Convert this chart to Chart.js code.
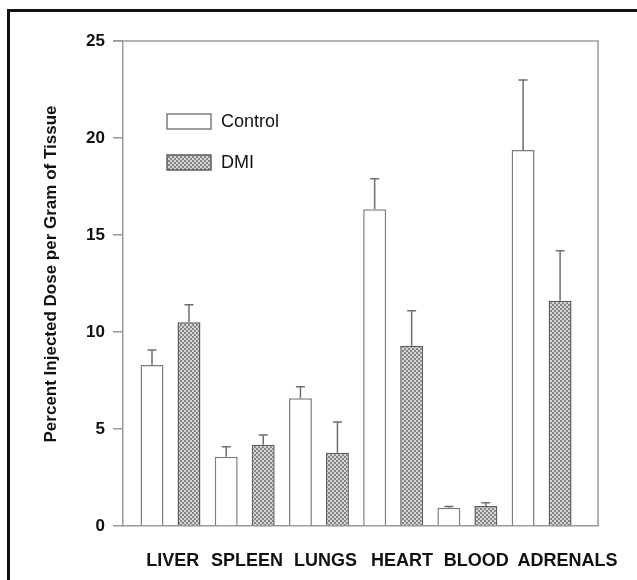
<!DOCTYPE html>
<html>
<head>
<meta charset="utf-8">
<script src="https://cdn.jsdelivr.net/npm/chart.js@4"></script>
<style>
html, body { margin: 0; padding: 0; background: #fff; }
#wrap { position: relative; width: 637px; height: 580px; overflow: hidden; }
#frame { position: absolute; left: 7px; top: 9px; right: -5px; bottom: -5px;
         border-left: 3px solid #111; border-top: 3px solid #111; pointer-events: none; }
canvas { position: absolute; left: 0; top: 0; }
</style>
</head>
<body>
<div id="wrap">
  <canvas id="chart" width="637" height="580"></canvas>
  <div id="frame"></div>
</div>
<script>
// valeurs
const organs = ['LIVER', 'SPLEEN', 'LUNGS', 'HEART', 'BLOOD', 'ADRENALS'];
const labelPos = [0.03, 1.03, 2.09, 3.12, 4.12, 5.35];   // position des libelles (en unites de categorie)
const controlMean = [8.30, 3.57, 6.58, 16.33, 0.94, 19.38];
const controlErr  = [0.77, 0.52, 0.60, 1.57, 0.06, 3.61];
const dmiMean     = [10.50, 4.19, 3.78, 9.29, 1.03, 11.61];
const dmiErr      = [0.91, 0.50, 1.58, 1.81, 0.17, 2.58];
const yTitle = 'Percent Injected Dose per Gram of Tissue';

Chart.defaults.font.family = '"Liberation Sans", Arial, sans-serif';
Chart.defaults.color = '#111';

// motif damier gris pour DMI
function makePattern() {
    const c = document.createElement('canvas');
    c.width = 4; c.height = 4;
    const g = c.getContext('2d');
    g.fillStyle = '#d6d6d6';
    g.fillRect(0, 0, 4, 4);
    g.fillStyle = '#858585';
    g.fillRect(0, 0, 2, 2);
    g.fillRect(2, 2, 2, 2);
    return g.createPattern(c, 'repeat');
}
const dmiFill = makePattern();

// barres d'erreur (haut seulement)
const errorBars = {
    id: 'errorBars',
    afterDatasetsDraw(chart) {
        const ctx = chart.ctx;
        const y = chart.scales.y;
        chart.data.datasets.forEach((ds, di) => {
            const meta = chart.getDatasetMeta(di);
            meta.data.forEach((bar, i) => {
                const top = y.getPixelForValue(ds.data[i].y + ds.errors[i]);
                ctx.save();
                ctx.strokeStyle = '#6e6e6e';
                ctx.lineWidth = 1.5;
                ctx.beginPath();
                ctx.moveTo(bar.x, bar.y);
                ctx.lineTo(bar.x, top);
                ctx.moveTo(bar.x - 4.5, top);
                ctx.lineTo(bar.x + 4.5, top);
                ctx.stroke();
                ctx.restore();
            });
        });
    }
};

// cadre haut et droite du graphique
const plotBox = {
    id: 'plotBox',
    afterDraw(chart) {
        const {ctx, chartArea: a} = chart;
        ctx.save();
        ctx.strokeStyle = '#9a9a9a';
        ctx.lineWidth = 1.5;
        ctx.beginPath();
        ctx.moveTo(a.left - 10, a.top);
        ctx.lineTo(a.right, a.top);
        ctx.lineTo(a.right, a.bottom);
        ctx.stroke();
        ctx.restore();
    }
};

// legende dans la zone du graphique
const legendBox = {
    id: 'legendBox',
    afterDraw(chart) {
        const {ctx, chartArea: a} = chart;
        chart.data.datasets.forEach((ds, i) => {
            const bx = a.left + 44, by = a.top + 73 + i * 41;
            ctx.save();
            ctx.fillStyle = ds.backgroundColor;
            ctx.fillRect(bx, by, 44, 15);
            ctx.strokeStyle = ds.borderColor;
            ctx.lineWidth = 1.5;
            ctx.strokeRect(bx, by, 44, 15);
            ctx.fillStyle = '#111';
            ctx.font = '18px "Liberation Sans", Arial, sans-serif';
            ctx.textBaseline = 'middle';
            ctx.fillText(ds.label, bx + 54, by + 8);
            ctx.restore();
        });
    }
};

// titre de l'axe Y
const yAxisTitle = {
    id: 'yAxisTitle',
    afterDraw(chart) {
        const ctx = chart.ctx;
        ctx.save();
        ctx.translate(51, 274);
        ctx.rotate(-Math.PI / 2);
        ctx.font = 'bold 17px "Liberation Sans", Arial, sans-serif';
        ctx.fillStyle = '#111';
        ctx.textAlign = 'center';
        ctx.textBaseline = 'middle';
        ctx.fillText(yTitle, 0, 0);
        ctx.restore();
    }
};

const ctx = document.getElementById('chart').getContext('2d');
new Chart(ctx, {
    type: 'bar',
    data: {
        datasets: [{
            label: 'Control',
            data: controlMean.map((v, i) => ({x: i, y: v})),
            errors: controlErr,
            backgroundColor: '#ffffff',
            borderColor: '#7c7c7c',
            borderWidth: 1.5
        }, {
            label: 'DMI',
            data: dmiMean.map((v, i) => ({x: i, y: v})),
            errors: dmiErr,
            backgroundColor: dmiFill,
            borderColor: '#5e5e5e',
            borderWidth: 1.5
        }]
    },
    options: {
        responsive: false,
        animation: false,
        devicePixelRatio: 1,
        categoryPercentage: 0.997,
        barPercentage: 0.62,
        layout: { padding: { left: 0, top: 41, right: 39, bottom: 0 } },
        plugins: { legend: { display: false }, tooltip: { enabled: false } },
        scales: {
            x: {
                type: 'linear',
                offset: false,
                min: -0.64,
                max: 5.76,
                grid: { display: false, drawTicks: false, offset: false },
                border: { display: true, color: '#9a9a9a', width: 1.5 },
                afterBuildTicks: (scale) => {
                    scale.ticks = labelPos.map(v => ({value: v}));
                },
                afterFit: (scale) => {
                    scale.height = 54;
                    scale.paddingLeft = 0;
                    scale.paddingRight = 0;
                },
                ticks: {
                    autoSkip: false,
                    maxRotation: 0,
                    padding: 24,
                    font: { size: 18, weight: 'bold' },
                    callback: (value, index) => organs[index]
                }
            },
            y: {
                min: 0,
                max: 25,
                grid: { display: true, drawOnChartArea: false, drawTicks: true,
                        tickLength: 10, color: '#9a9a9a', lineWidth: 1.5 },
                border: { display: true, color: '#9a9a9a', width: 1.5 },
                afterFit: (scale) => {
                    scale.width = 123;
                    scale.paddingTop = 0;
                    scale.paddingBottom = 0;
                },
                ticks: {
                    stepSize: 5,
                    padding: 8,
                    font: { size: 17, weight: 'bold' }
                }
            }
        }
    },
    plugins: [errorBars, plotBox, legendBox, yAxisTitle]
});
</script>
</body>
</html>
